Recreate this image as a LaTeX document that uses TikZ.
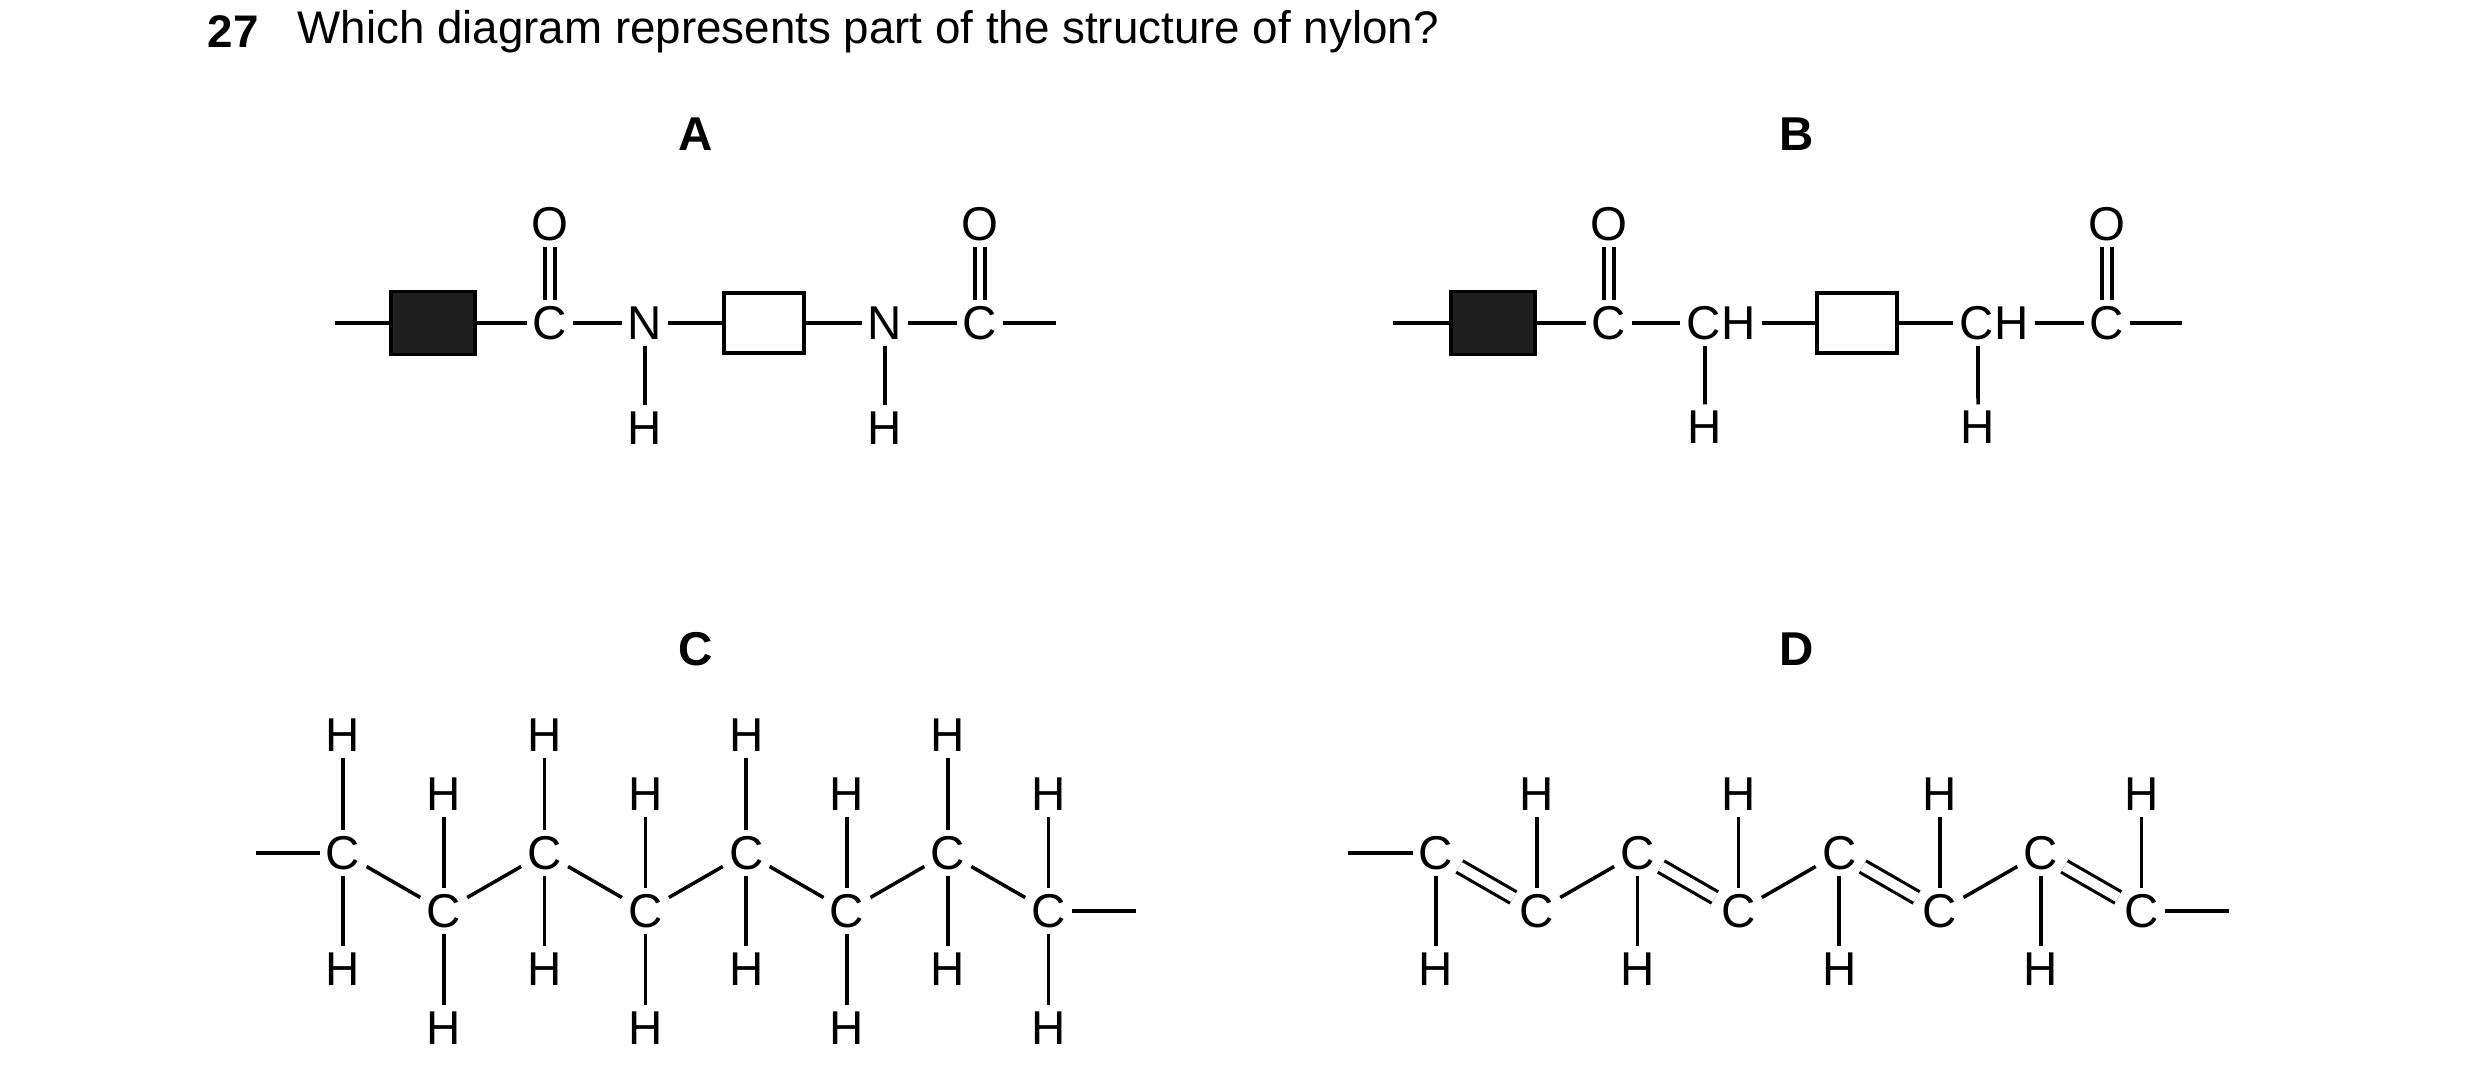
\documentclass[tikz,border=0pt]{standalone}
\usepackage{fontspec}
\setmainfont{Liberation Sans}
\usetikzlibrary{positioning}

\begin{document}
\begin{tikzpicture}[
    x=0.01cm, y=-0.01cm,
    atom/.style={inner sep=1.6pt, font=\fontsize{13.5}{14}\selectfont},
    label/.style={font=\fontsize{13.5}{14}\selectfont\bfseries},
    bond/.style={line width=1pt},
    dbl/.style={double, double distance=2.8pt, line width=0.9pt},
    fullbox/.style={rectangle, draw, fill=black!88, line width=1pt, minimum width=0.84cm, minimum height=0.63cm},
    emptybox/.style={rectangle, draw, line width=1.4pt, minimum width=0.8cm, minimum height=0.6cm}
    ]
    \useasboundingbox (0,0) rectangle (2480,1082);

    % Question
    \node[anchor=west, inner sep=0pt, font=\fontsize{13}{15}\selectfont\bfseries] (qnum) at (207,32) {27};
    \node[anchor=west, inner sep=0pt, font=\fontsize{13}{15}\selectfont] (qtext) at (297,32) {Which diagram represents part of the structure of nylon?};

    % Option labels
    \node[label] (la) at (696,134) {A};
    \node[label] (lb) at (1797,134) {B};
    \node[label] (lc) at (696,649) {C};
    \node[label] (ld) at (1797,649) {D};

    % A
    \coordinate (aL) at (335,323);
    \node[fullbox] (ablk) at (433,323) {};
    \node[atom] (ac1) at (550,323) {C};
    \node[atom] (ao1) at (550,224) {O};
    \node[atom] (an1) at (645,323) {N};
    \node[atom] (ah1) at (645,428) {H};
    \node[emptybox] (abox) at (764,323) {};
    \node[atom] (an2) at (885,323) {N};
    \node[atom] (ah2) at (885,428) {H};
    \node[atom] (ac2) at (980,323) {C};
    \node[atom] (ao2) at (980,224) {O};
    \coordinate (aR) at (1056,323);
    \draw[bond] (aL) -- (ablk) -- (ac1) -- (an1) -- (abox) -- (an2) -- (ac2) -- (aR);
    \draw[bond] (an1) -- (ah1);
    \draw[bond] (an2) -- (ah2);
    \foreach \n in {1,2} {
        \draw[bond] ([xshift=-0.05cm]ac\n.north) -- ([xshift=-0.05cm]ao\n.south);
        \draw[bond] ([xshift=0.05cm]ac\n.north) -- ([xshift=0.05cm]ao\n.south);
    }

    % B
    \coordinate (bL) at (1393,323);
    \node[fullbox] (bblk) at (1493,323) {};
    \node[atom] (bc1) at (1609,323) {C};
    \node[atom] (bo1) at (1609,224) {O};
    \node[atom] (bch1) at (1721,323) {CH};
    \node[atom] (bh1) at (1705,427) {H};
    \node[emptybox] (bbox) at (1857,323) {};
    \node[atom] (bch2) at (1994,323) {CH};
    \node[atom] (bh2) at (1978,427) {H};
    \node[atom] (bc2) at (2107,323) {C};
    \node[atom] (bo2) at (2107,224) {O};
    \coordinate (bR) at (2182,323);
    \draw[bond] (bL) -- (bblk) -- (bc1) -- (bch1) -- (bbox) -- (bch2) -- (bc2) -- (bR);
    \draw[bond] ([xshift=-0.16cm]bch1.south) -- (bh1);
    \draw[bond] ([xshift=-0.16cm]bch2.south) -- (bh2);
    \foreach \n in {1,2} {
        \draw[bond] ([xshift=-0.05cm]bc\n.north) -- ([xshift=-0.05cm]bo\n.south);
        \draw[bond] ([xshift=0.05cm]bc\n.north) -- ([xshift=0.05cm]bo\n.south);
    }

    % C
    \foreach \i in {0,...,7} {
        \pgfmathsetmacro{\xx}{343+\i*100.8}
        \ifodd\i
            \node[atom] (cc\i) at (\xx,911) {C};
            \node[atom] (cu\i) at (\xx,794) {H};
            \node[atom] (cd\i) at (\xx,1028) {H};
        \else
            \node[atom] (cc\i) at (\xx,853) {C};
            \node[atom] (cu\i) at (\xx,735) {H};
            \node[atom] (cd\i) at (\xx,969) {H};
        \fi
        \draw[bond] (cu\i) -- (cc\i) -- (cd\i);
    }
    \foreach \i [evaluate=\i as \j using int(\i+1)] in {0,...,6}
        \draw[bond] (cc\i) -- (cc\j);
    \coordinate (cL) at (256,853);
    \coordinate (cR) at (1136,911);
    \draw[bond] (cL) -- (cc0);
    \draw[bond] (cc7) -- (cR);

    % D
    \foreach \i in {0,...,7} {
        \pgfmathsetmacro{\xx}{1436+\i*100.8}
        \ifodd\i
            \node[atom] (dc\i) at (\xx,911) {C};
            \node[atom] (dh\i) at (\xx,794) {H};
        \else
            \node[atom] (dc\i) at (\xx,853) {C};
            \node[atom] (dh\i) at (\xx,969) {H};
        \fi
        \draw[bond] (dc\i) -- (dh\i);
    }
    \foreach \i [evaluate=\i as \j using int(\i+1)] in {0,2,4,6}
        \draw[dbl] (dc\i) -- (dc\j);
    \foreach \i [evaluate=\i as \j using int(\i+1)] in {1,3,5}
        \draw[bond] (dc\i) -- (dc\j);
    \coordinate (dL) at (1348,853);
    \coordinate (dR) at (2229,911);
    \draw[bond] (dL) -- (dc0);
    \draw[bond] (dc7) -- (dR);
\end{tikzpicture}
\end{document}
